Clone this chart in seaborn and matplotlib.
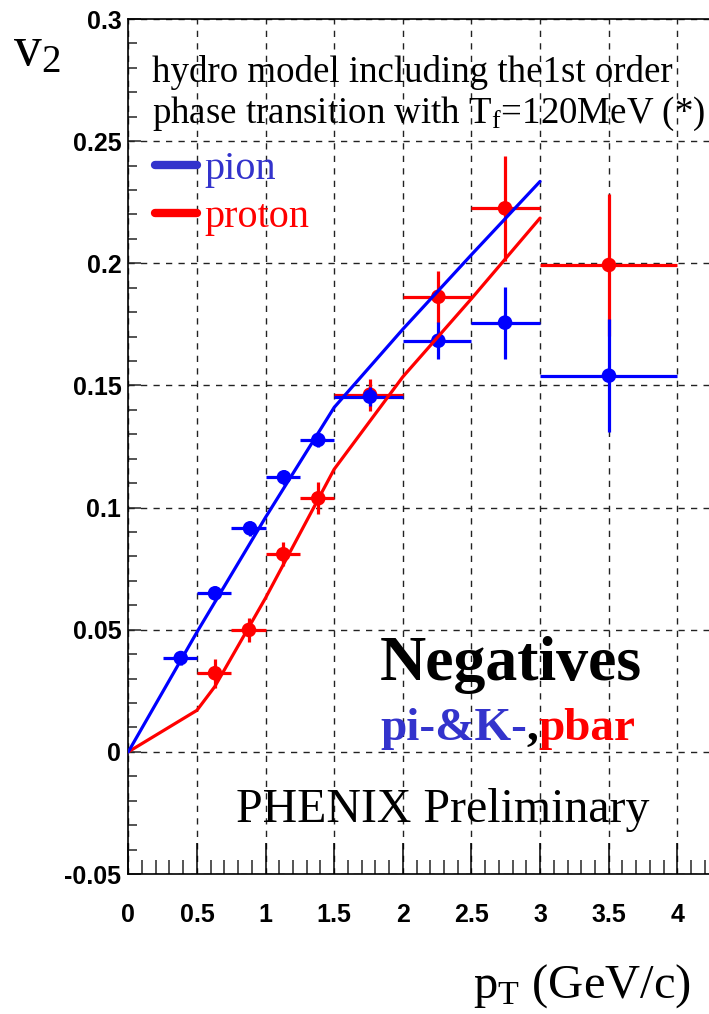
import numpy as np
import pandas as pd
import matplotlib
matplotlib.use('Agg')
import matplotlib.pyplot as plt
import seaborn as sns
from matplotlib.lines import Line2D

sns.set_theme(style='white')
plt.rcParams['font.family'] = ['Liberation Serif', 'DejaVu Serif']
plt.rcParams['mathtext.fontset'] = 'custom'
plt.rcParams['mathtext.rm'] = 'Liberation Serif'
plt.rcParams['mathtext.it'] = 'Liberation Serif:italic'
plt.rcParams['mathtext.bf'] = 'Liberation Serif:bold'

# ---------------- data ----------------
pion_pt = [0.382, 0.632, 0.887, 1.134, 1.384, 1.761, 2.259, 2.745, 3.502]
pion_lo = [0.25, 0.5, 0.75, 1.0, 1.25, 1.5, 2.0, 2.5, 3.0]
pion_hi = [0.5, 0.75, 1.0, 1.25, 1.5, 2.0, 2.5, 3.0, 4.0]
pion_v2 = [0.0384, 0.0649, 0.0915, 0.1124, 0.1277, 0.1454, 0.1683, 0.1757, 0.1540]
pion_err = [0.003, 0.003, 0.003, 0.003, 0.003, 0.004, 0.0075, 0.0147, 0.023]

proton_pt = [0.632, 0.879, 1.129, 1.384, 1.761, 2.259, 2.745, 3.502]
proton_lo = [0.5, 0.75, 1.0, 1.25, 1.5, 2.0, 2.5, 3.0]
proton_hi = [0.75, 1.0, 1.25, 1.5, 2.0, 2.5, 3.0, 4.0]
proton_v2 = [0.0322, 0.0499, 0.0809, 0.1038, 0.1462, 0.1863, 0.2225, 0.1993]
proton_err = [0.006, 0.005, 0.005, 0.0065, 0.0065, 0.0107, 0.0215, 0.029]

hydro_pion_pt = [0.0, 0.5, 1.0, 1.5, 2.0, 2.5, 3.0]
hydro_pion_v2 = [0.0, 0.049, 0.096, 0.141, 0.173, 0.2035, 0.2335]
hydro_proton_pt = [0.0, 0.5, 0.63, 1.0, 1.5, 2.0, 2.5, 3.0]
hydro_proton_v2 = [0.0, 0.017, 0.0267, 0.063, 0.1157, 0.1535, 0.1855, 0.2185]

xtick_vals = [0, 0.5, 1, 1.5, 2, 2.5, 3, 3.5, 4]
xtick_labels = ['0', '0.5', '1', '1.5', '2', '2.5', '3', '3.5', '4']
ytick_vals = [-0.05, 0, 0.05, 0.1, 0.15, 0.2, 0.25, 0.3]
ytick_labels = ['-0.05', '0', '0.05', '0.1', '0.15', '0.2', '0.25', '0.3']

BLUE = '#0000ff'
RED = '#ff0000'
TXTBLUE = '#3333cc'

# ---------------- figure ----------------
W, H = 709, 1014
fig = plt.figure(figsize=(W / 100, H / 100), dpi=100)
x0px, x1px = 128.3, 709
ytop, ybot = 19, 874
ax = fig.add_axes([x0px / W, (H - ybot) / H, (x1px - x0px) / W, (ybot - ytop) / H])
ax.set_xlim(0, (x1px - x0px) / 137.25)
ax.set_ylim(-0.05, 0.3)
ax.set_facecolor('white')

# grid
ax.set_axisbelow(True)
ax.grid(True, which='major', color='#222222', linestyle=(0, (4.5, 4.5)), linewidth=1.0)

# data error bars
def draw_points(pt, lo, hi, v2, err, color, z):
    pt = np.array(pt); lo = np.array(lo); hi = np.array(hi)
    ax.errorbar(pt, v2, xerr=[pt - lo, hi - pt], yerr=err, fmt='none',
                ecolor=color, elinewidth=2.3, capsize=0, zorder=z)
    df = pd.DataFrame({'pt': pt, 'v2': v2})
    sns.scatterplot(data=df, x='pt', y='v2', color=color, s=110, edgecolor='none',
                    ax=ax, zorder=z + 0.1, legend=False)

draw_points(proton_pt, proton_lo, proton_hi, proton_v2, proton_err, RED, 2)
draw_points(pion_pt, pion_lo, pion_hi, pion_v2, pion_err, BLUE, 3)

# hydro curves
sns.lineplot(x=hydro_proton_pt, y=hydro_proton_v2, color=RED, linewidth=2.3,
             ax=ax, zorder=4, sort=False)
sns.lineplot(x=hydro_pion_pt, y=hydro_pion_v2, color=BLUE, linewidth=2.3,
             ax=ax, zorder=5, sort=False)

# ticks
ax.set_xticks(xtick_vals)
ax.set_xticklabels(xtick_labels)
ax.set_yticks(ytick_vals)
ax.set_yticklabels(ytick_labels)
ax.set_xticks(np.arange(0, 4.25, 0.1), minor=True)
ax.set_yticks(np.arange(-0.05, 0.3001, 0.01), minor=True)
ax.tick_params(axis='x', which='major', direction='in', length=22, width=1.1, pad=21,
               bottom=True, top=False, colors='black')
ax.tick_params(axis='x', which='minor', direction='in', length=10, width=1.1,
               bottom=True, top=False)
ax.tick_params(axis='y', which='major', direction='in', length=9, width=1.1, pad=5,
               left=True, right=False)
ax.tick_params(axis='y', which='minor', direction='in', length=6.5, width=1.1,
               left=True, right=False)
for lab in ax.get_xticklabels() + ax.get_yticklabels():
    lab.set_fontfamily('Liberation Sans')
    lab.set_fontweight('bold')
    lab.set_fontsize(18)
    lab.set_color('black')

for side in ['left', 'bottom', 'top']:
    ax.spines[side].set_visible(True)
    ax.spines[side].set_color('black')
    ax.spines[side].set_linewidth(1.2)
ax.spines['right'].set_visible(False)
ax.set_xlabel('')
ax.set_ylabel('')

# ---------------- texts ----------------
ax.text(0.173, 0.2744, 'hydro model including the1st order', fontsize=26.6,
        color='black', va='baseline', ha='left', zorder=6)
ax.text(0.173, 0.2573, r'phase transition with T$_{\mathrm{f}}$=120MeV (*)', fontsize=26.6,
        color='black', va='baseline', ha='left', zorder=6)

handles = [Line2D([0], [0], color=TXTBLUE, lw=6), Line2D([0], [0], color=RED, lw=6)]
ax.legend(handles, ['pion', 'proton'], loc='upper left', bbox_to_anchor=(0.018, 0.865),
          frameon=False, fontsize=29, handlelength=1.05, handletextpad=0.18,
          labelspacing=0.27, borderaxespad=0, labelcolor=[TXTBLUE, RED])

ax.text(2.787, 0.0294, 'Negatives', fontsize=46, fontweight='bold', color='black',
        ha='center', va='baseline', zorder=6)

# multi-coloured line
fig.canvas.draw()
renderer = fig.canvas.get_renderer()
xpos = 1.834
ybase = 0.0049
for part, col in [('pi-&K-', TXTBLUE), (',', 'black'), ('pbar', RED)]:
    t = ax.text(xpos, ybase, part, fontsize=34, fontweight='bold', color=col,
                ha='left', va='baseline', zorder=6)
    bb = t.get_window_extent(renderer)
    xpos = ax.transData.inverted().transform((bb.x1, bb.y0))[0]

ax.text(0.785, -0.0286, 'PHENIX Preliminary', fontsize=34.5, color='black',
        ha='left', va='baseline', zorder=6)

fig.text(12.7 / W, 1 - 65 / H, r'v$_{\mathrm{2}}$', fontsize=40, color='black',
         ha='left', va='baseline')
fig.text(473 / W, 1 - 998 / H, r'p$_{\mathrm{T}}$ (GeV/c)', fontsize=35, color='black',
         ha='left', va='baseline')

fig.savefig('out.png', dpi=100, facecolor='white')
